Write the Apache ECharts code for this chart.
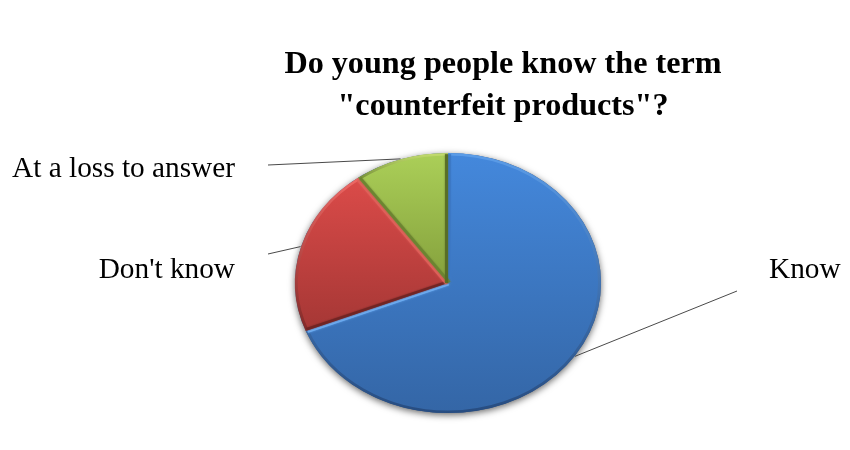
<!DOCTYPE html>
<html>
<head>
<meta charset="utf-8">
<style>html,body{margin:0;padding:0;background:#fff}#c{width:850px;height:450px}</style>
<script src="https://cdn.jsdelivr.net/npm/echarts@6/dist/echarts.min.js"></script>
</head>
<body>
<div id="c"></div>
<script>
var titleText = 'Do young people know the term\n"counterfeit products"?';
var categories = ['Know', "Don't know", 'At a loss to answer'];
var shares = [69, 21, 10];

// Style and layout only
var fillTop = ['#4488DC', '#DB4B49', '#ABCF58'];
var fillBottom = ['#3466A6', '#A53735', '#84A03C'];
var arcTop = ['#5E9FEA', '#F26C68', '#CBE374'];
var arcBottom = ['#25497C', '#7E2725', '#6A8330'];
var startEdge = ['#3C78C4', '#6E2322', '#6A8330'];
var endEdge = ['#6FB2F8', '#E2605B', '#566B25'];
var leaderEnds = [[737, 291], [268, 254], [268, 165]];
var labelAnchors = [[769, 270, 'left'], [235, 270, 'right'], [235, 169, 'right']];
var CX = 448, CY = 283, RX = 153.5, RY = 130.5;

var total = shares.reduce(function (a, b) { return a + b; }, 0);
var ELLIPSE = { scaleY: RY / RX, originX: CX, originY: CY };

function withEllipse(el) {
  for (var k in ELLIPSE) el[k] = ELLIPSE[k];
  return el;
}

function radialEdge(angle, side, color) {
  var nx = -Math.sin(angle) * side, ny = Math.cos(angle) * side;
  return withEllipse({
    type: 'line', z2: 3, silent: true,
    shape: {
      x1: CX + nx * 1.5, y1: CY + ny * 1.5,
      x2: CX + nx * 1.5 + (RX - 2) * Math.cos(angle),
      y2: CY + ny * 1.5 + (RX - 2) * Math.sin(angle)
    },
    style: { stroke: color, lineWidth: 3, opacity: 0.85, shadowBlur: 2, shadowColor: color }
  });
}

function renderSlice(params, api) {
  var i = params.dataIndex, before = 0;
  for (var k = 0; k < i; k++) before += shares[k];
  var a0 = -Math.PI / 2 + before / total * 2 * Math.PI;
  var a1 = a0 + api.value(1) / total * 2 * Math.PI;
  var mid = (a0 + a1) / 2;
  var sx = CX + RX * Math.cos(mid), sy = CY + RY * Math.sin(mid);
  var children = [];
  if (i === 0) {
    children.push(withEllipse({
      type: 'circle', z2: 0,
      shape: { cx: CX, cy: CY, r: RX - 0.5 },
      style: { fill: '#2C4F80', shadowBlur: 7, shadowColor: 'rgba(0,0,0,0.6)', shadowOffsetY: 2 }
    }));
  }
  children.push({
    type: 'line', z2: 0, silent: true,
    shape: { x1: sx, y1: sy, x2: leaderEnds[i][0], y2: leaderEnds[i][1] },
    style: { stroke: '#4a4a4a', lineWidth: 1 }
  });
  children.push(withEllipse({
    type: 'sector', z2: 1,
    shape: { cx: CX, cy: CY, r0: 0, r: RX - 1, startAngle: a0, endAngle: a1, clockwise: true },
    style: {
      fill: new echarts.graphic.LinearGradient(0, 0, 0, 1, [
        { offset: 0, color: fillTop[i] }, { offset: 1, color: fillBottom[i] }
      ])
    }
  }));
  children.push(withEllipse({
    type: 'arc', z2: 2, silent: true,
    shape: { cx: CX, cy: CY, r: RX - 2, startAngle: a0, endAngle: a1, clockwise: true },
    style: {
      fill: 'none', lineWidth: 3, opacity: 0.9,
      stroke: new echarts.graphic.LinearGradient(0, 0, 0, 1, [
        { offset: 0, color: arcTop[i] }, { offset: 1, color: arcBottom[i] }
      ])
    }
  }));
  children.push(radialEdge(a0, 1, startEdge[i]));
  children.push(radialEdge(a1, -1, endEdge[i]));
  children.push({
    type: 'text', z2: 4,
    x: labelAnchors[i][0], y: labelAnchors[i][1],
    style: {
      text: categories[i],
      fill: '#000', font: '29.3px "Liberation Serif"',
      align: labelAnchors[i][2], verticalAlign: 'middle'
    }
  });
  return { type: 'group', children: children };
}

var chart = echarts.init(document.getElementById('c'), null, { renderer: 'canvas' });
chart.setOption({
  animation: false,
  backgroundColor: '#fff',
  title: {
    text: titleText, left: 498, top: 39, textAlign: 'center',
    textStyle: { fontFamily: 'Liberation Serif', fontWeight: 'bold', fontSize: 32.2, lineHeight: 42, color: '#000' }
  },
  series: [{
    type: 'custom',
    coordinateSystem: 'none',
    renderItem: renderSlice,
    data: categories.map(function (c, i) { return { name: c, value: [i, shares[i]] }; })
  }]
});
</script>
</body>
</html>
